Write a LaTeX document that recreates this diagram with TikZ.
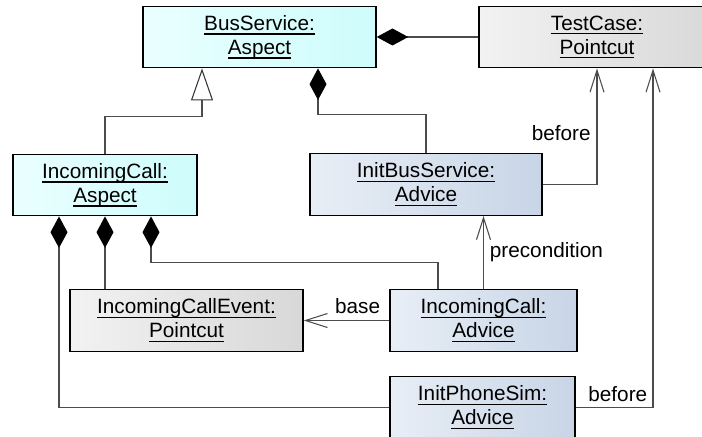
\documentclass[tikz,border=0pt]{standalone}
\usepackage{fontspec}
\setmainfont{Liberation Sans}
\usepackage{xcolor}
\usepackage{tikz}
\usetikzlibrary{arrows.meta,positioning}

\newsavebox\ulnbox
\newcommand\uln[1]{\sbox\ulnbox{#1}\rlap{\vrule height -1.6pt depth 2.4pt width \wd\ulnbox}\usebox\ulnbox}

\definecolor{aspL}{RGB}{234,255,255}
\definecolor{aspR}{RGB}{206,252,252}
\definecolor{pcL}{RGB}{242,242,242}
\definecolor{pcR}{RGB}{216,216,216}
\definecolor{advL}{RGB}{232,238,246}
\definecolor{advR}{RGB}{200,213,230}

\begin{document}
\begin{tikzpicture}[
  box/.style={draw=black,line width=0.8pt,minimum height=1.23cm,align=center,
    font=\fontsize{11.8}{13.7}\selectfont},
  asp/.style={box,left color=aspL,right color=aspR},
  pc/.style={box,left color=pcL,right color=pcR},
  adv/.style={box,left color=advL,right color=advR},
  lbl/.style={font=\fontsize{11.8}{13.7}\selectfont},
  comp/.style={draw=black!70,line width=0.6pt,-{Diamond[length=0.63cm,width=0.34cm,color=black]}},
  gen/.style={draw=black!70,line width=0.6pt,-{Triangle[length=0.64cm,width=0.44cm,fill=white,color=black!80]}},
  dep/.style={draw=black!70,line width=0.6pt,-{Straight Barb[length=0.44cm,width=0.28cm]}}]
\useasboundingbox (0,0) rectangle (14.04,-8.72);
\clip (0,0) rectangle (14.04,-8.72);
% objects
\node[asp,minimum width=4.66cm] (bus)   at (5.19,-0.74) {\uln{BusService:}\\\uln{Aspect}};
\node[pc,minimum width=4.72cm]  (tc)    at (11.94,-0.74){\uln{TestCase:}\\\uln{Pointcut}};
\node[asp,minimum width=3.68cm] (ica)   at (2.10,-3.70) {\uln{IncomingCall:}\\\uln{Aspect}};
\node[adv,minimum width=4.64cm] (ibs)   at (8.52,-3.69) {\uln{InitBusService:}\\\uln{Advice}};
\node[pc,minimum width=4.66cm]  (ice)   at (3.73,-6.41) {\uln{IncomingCallEvent:}\\\uln{Pointcut}};
\node[adv,minimum width=3.74cm] (icadv) at (9.67,-6.41) {\uln{IncomingCall:}\\\uln{Advice}};
\node[adv,minimum width=3.70cm] (ips)   at (9.65,-8.15) {\uln{InitPhoneSim:}\\\uln{Advice}};
% connectors
\draw[gen] (ica.north) -- ++(0,0.74) -| ([xshift=-1.15cm]bus.south);
\draw[comp] (ibs.north) -- ++(0,0.78) -| ([xshift=1.17cm]bus.south);
\draw[comp] (tc.west) -- (bus.east);
\draw[dep] (ibs.east) -| (tc.south) node[lbl,pos=0.72,left]{before};
\draw[dep] (ips.east) -| ([xshift=1.12cm]tc.south) node[lbl,pos=0.5,anchor=south east,inner sep=3pt]{before};
\draw[dep] (icadv.north) -- (icadv.north |- ibs.south) node[lbl,midway,right]{precondition};
\draw[dep] (icadv.west) -- (ice.east) node[lbl,pos=0.37,above]{base};
\draw[comp] (ips.west) -| ([xshift=-0.92cm]ica.south);
\draw[comp] (ice.north -| ica.south) -- (ica.south);
\draw[comp] ([xshift=-0.91cm]icadv.north) -- ++(0,0.54) -| ([xshift=0.92cm]ica.south);
\end{tikzpicture}
\end{document}
